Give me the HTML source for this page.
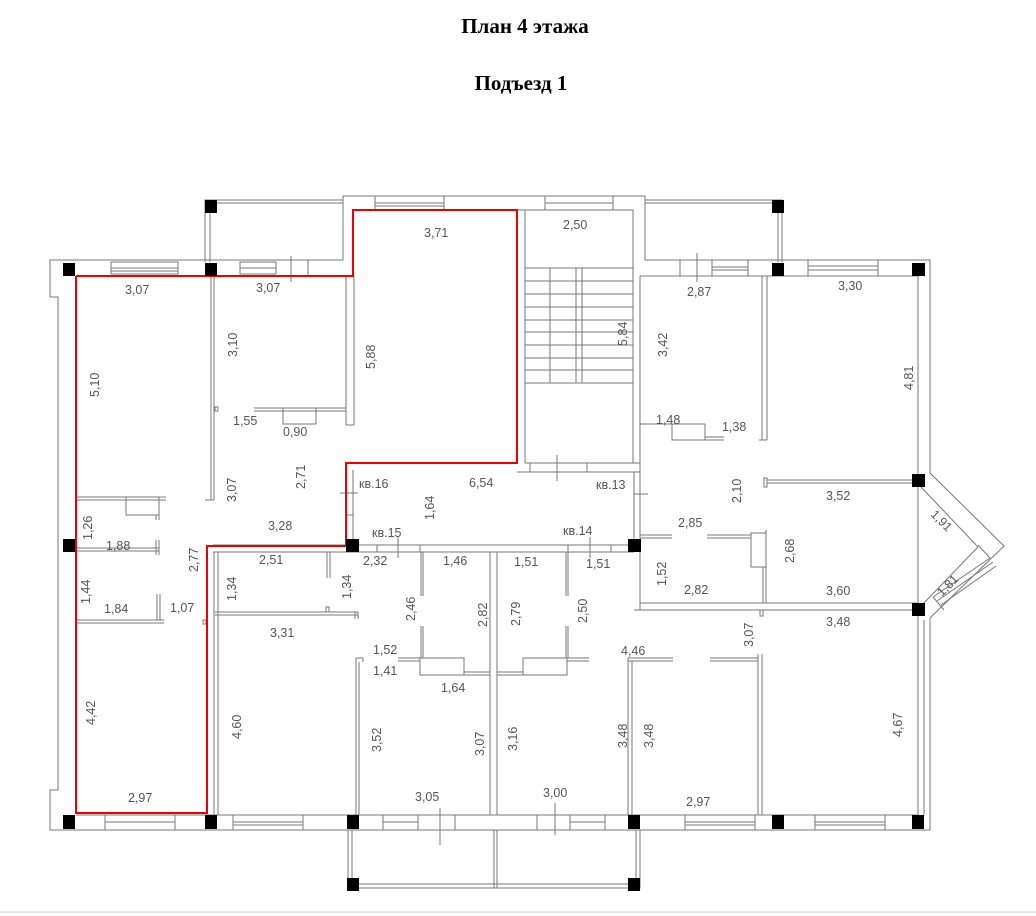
<!DOCTYPE html>
<html><head><meta charset="utf-8"><style>
html,body{margin:0;padding:0;background:#fff;}
svg{display:block}
.t{font-family:"Liberation Sans",sans-serif;font-size:12.5px;fill:#555;}
.h{font-family:"Liberation Serif",serif;font-size:21px;font-weight:bold;fill:#000;}
</style></head><body>
<svg width="1036" height="916" viewBox="0 0 1036 916" xmlns="http://www.w3.org/2000/svg">
<rect width="1036" height="916" fill="#fff"/>
<text class="h" x="525" y="33" text-anchor="middle">План 4 этажа</text>
<text class="h" x="521" y="90" text-anchor="middle">Подъезд 1</text>
<line x1="0" y1="912" x2="1036" y2="912" stroke="#ccc" stroke-width="1"/>
<g fill="none" stroke="#777" stroke-width="1">
<polyline points="50,297 50,260 343,260 343,196 645,196 645,260 930,260 930,473 1004,546 930,618 930,830 50,830 50,790 58,790 58,297 50,297"/>
<polyline points="76,276 343,276"/>
<polyline points="640,276 918,276 918,815 76,815"/>
<polyline points="357,210 633,210 633,463"/>
<polyline points="921,487 978,547 922,605"/>
<polyline points="205,262 205,200 343,200"/><line x1="210" y1="200" x2="210" y2="262"/><line x1="210" y1="203" x2="343" y2="203"/>
<polyline points="645,200 782,200 782,262"/><line x1="645" y1="203" x2="778" y2="203"/><line x1="778" y1="203" x2="778" y2="262"/>
<polyline points="348,830 348,888 640,888 640,830"/><line x1="352" y1="830" x2="352" y2="884"/><line x1="636" y1="830" x2="636" y2="884"/><line x1="352" y1="884" x2="636" y2="884"/><line x1="494" y1="830" x2="494" y2="888"/><line x1="497" y1="830" x2="497" y2="888"/>
<rect x="111" y="262" width="67" height="12"/><line x1="111" y1="268" x2="178" y2="268"/><line x1="111" y1="271" x2="178" y2="271"/>
<rect x="240" y="262" width="36" height="12"/><line x1="240" y1="268" x2="276" y2="268"/>
<line x1="291" y1="256" x2="291" y2="282"/><line x1="308" y1="260" x2="308" y2="276"/>
<rect x="375" y="196" width="69" height="14"/><line x1="375" y1="203" x2="444" y2="203"/><line x1="375" y1="206" x2="444" y2="206"/>
<rect x="545" y="196" width="68" height="14"/><line x1="545" y1="203" x2="613" y2="203"/>
<line x1="680" y1="260" x2="680" y2="276"/><line x1="697" y1="253" x2="697" y2="282"/>
<rect x="712" y="260" width="36" height="16"/><line x1="712" y1="267" x2="748" y2="267"/><line x1="712" y1="270" x2="748" y2="270"/>
<rect x="808" y="260" width="70" height="16"/><line x1="808" y1="266" x2="878" y2="266"/><line x1="808" y1="270" x2="878" y2="270"/>
<rect x="105" y="815" width="70" height="15"/><line x1="105" y1="822" x2="175" y2="822"/>
<rect x="233" y="815" width="70" height="15"/><line x1="233" y1="822" x2="303" y2="822"/><line x1="233" y1="825" x2="303" y2="825"/>
<rect x="383" y="815" width="35" height="15"/><line x1="383" y1="822" x2="418" y2="822"/>
<line x1="440" y1="808" x2="440" y2="845"/><line x1="455" y1="815" x2="455" y2="830"/>
<line x1="537" y1="815" x2="537" y2="830"/><line x1="555" y1="803" x2="555" y2="835"/>
<rect x="570" y="815" width="35" height="15"/><line x1="570" y1="822" x2="605" y2="822"/>
<rect x="685" y="815" width="70" height="15"/><line x1="685" y1="822" x2="755" y2="822"/><line x1="685" y1="825" x2="755" y2="825"/>
<rect x="815" y="815" width="70" height="15"/><line x1="815" y1="822" x2="885" y2="822"/><line x1="815" y1="825" x2="885" y2="825"/>
<!-- bay window -->
<line x1="933" y1="597" x2="990" y2="558"/><line x1="937" y1="601" x2="993" y2="562"/><line x1="941" y1="605" x2="996" y2="566"/>
<line x1="933" y1="597" x2="944" y2="610"/><line x1="978" y1="545" x2="990" y2="558"/>
<!-- stair -->
<line x1="525" y1="210" x2="525" y2="463"/>
<line x1="525" y1="463" x2="640" y2="463"/><line x1="517" y1="472" x2="640" y2="472"/>
<g>
<line x1="525" y1="268" x2="633" y2="268"/><line x1="525" y1="281" x2="633" y2="281"/><line x1="525" y1="294" x2="633" y2="294"/><line x1="525" y1="307" x2="633" y2="307"/><line x1="525" y1="320" x2="633" y2="320"/><line x1="525" y1="332" x2="633" y2="332"/><line x1="525" y1="345" x2="633" y2="345"/><line x1="525" y1="358" x2="633" y2="358"/><line x1="525" y1="370" x2="633" y2="370"/><line x1="525" y1="383" x2="633" y2="383"/>
<line x1="550" y1="268" x2="550" y2="383"/><line x1="576" y1="268" x2="576" y2="383"/><line x1="582" y1="268" x2="582" y2="383"/>
<line x1="530" y1="463" x2="530" y2="472"/><line x1="587" y1="463" x2="587" y2="472"/><line x1="557" y1="455" x2="557" y2="481"/>
</g>
<line x1="211" y1="276" x2="211" y2="500"/><line x1="214" y1="276" x2="214" y2="500"/><line x1="205" y1="500" x2="214" y2="500"/>
<line x1="346" y1="276" x2="346" y2="425"/><line x1="354" y1="276" x2="354" y2="425"/><line x1="346" y1="425" x2="354" y2="425"/>
<line x1="254" y1="408" x2="346" y2="408"/><line x1="254" y1="411" x2="346" y2="411"/>
<rect x="283" y="408" width="33" height="16"/>
<rect x="215" y="407" width="3" height="4"/>
<line x1="76" y1="497" x2="166" y2="497"/><line x1="76" y1="500" x2="166" y2="500"/><rect x="126" y="497" width="33" height="18"/><line x1="156" y1="515" x2="156" y2="520"/><line x1="159" y1="515" x2="159" y2="520"/>
<line x1="76" y1="548" x2="159" y2="548"/><line x1="76" y1="551" x2="159" y2="551"/><line x1="156" y1="540" x2="156" y2="555"/><line x1="159" y1="540" x2="159" y2="555"/>
<line x1="76" y1="620" x2="164" y2="620"/><line x1="76" y1="623" x2="164" y2="623"/><line x1="157" y1="594" x2="157" y2="620"/><line x1="160" y1="594" x2="160" y2="620"/>
<rect x="203" y="620" width="3" height="4"/>
<line x1="346" y1="463" x2="517" y2="463"/>
<line x1="346" y1="463" x2="346" y2="546"/><line x1="353" y1="470" x2="353" y2="546"/>
<line x1="340" y1="493" x2="358" y2="493"/><line x1="346" y1="515" x2="353" y2="515"/>
<line x1="634" y1="472" x2="634" y2="546"/><line x1="640" y1="276" x2="640" y2="610"/><line x1="634" y1="494" x2="648" y2="494"/>
<line x1="213" y1="545" x2="634" y2="545"/><line x1="213" y1="552" x2="634" y2="552"/>
<line x1="377" y1="545" x2="377" y2="552"/><line x1="398" y1="537" x2="398" y2="558"/><line x1="420" y1="545" x2="420" y2="552"/>
<line x1="568" y1="545" x2="568" y2="552"/><line x1="590" y1="537" x2="590" y2="558"/><line x1="611" y1="545" x2="611" y2="552"/>
<line x1="214" y1="552" x2="214" y2="815"/><line x1="218" y1="552" x2="218" y2="815"/>
<line x1="327" y1="552" x2="327" y2="578"/><line x1="330" y1="552" x2="330" y2="578"/>
<line x1="215" y1="612" x2="358" y2="612"/><line x1="215" y1="615" x2="358" y2="615"/><line x1="355" y1="612" x2="355" y2="619"/><line x1="358" y1="612" x2="358" y2="619"/>
<rect x="326" y="607" width="3" height="5"/>
<line x1="421" y1="552" x2="421" y2="596"/><line x1="423" y1="552" x2="423" y2="596"/>
<line x1="421" y1="626" x2="421" y2="658"/><line x1="423" y1="626" x2="423" y2="658"/>
<line x1="398" y1="658" x2="420" y2="658"/><line x1="398" y1="661" x2="420" y2="661"/>
<rect x="420" y="658" width="44" height="17"/><line x1="464" y1="672" x2="490" y2="672"/><line x1="464" y1="675" x2="490" y2="675"/>
<line x1="356" y1="658" x2="356" y2="815"/><line x1="359" y1="662" x2="359" y2="815"/><line x1="356" y1="658" x2="363" y2="658"/><line x1="363" y1="658" x2="363" y2="662"/>
<line x1="490" y1="552" x2="490" y2="815"/><line x1="497" y1="552" x2="497" y2="815"/>
<line x1="497" y1="672" x2="523" y2="672"/><line x1="497" y1="675" x2="523" y2="675"/>
<rect x="523" y="658" width="44" height="17"/>
<line x1="567" y1="658" x2="589" y2="658"/><line x1="567" y1="661" x2="589" y2="661"/>
<line x1="566" y1="552" x2="566" y2="596"/><line x1="568" y1="552" x2="568" y2="596"/>
<line x1="566" y1="626" x2="566" y2="658"/><line x1="568" y1="626" x2="568" y2="658"/>
<line x1="762" y1="276" x2="762" y2="440"/><line x1="767" y1="276" x2="767" y2="440"/><line x1="759" y1="440" x2="767" y2="440"/>
<line x1="640" y1="424" x2="672" y2="424"/><rect x="672" y="424" width="33" height="16"/><line x1="705" y1="437" x2="724" y2="437"/><line x1="705" y1="440" x2="724" y2="440"/>
<line x1="767" y1="480" x2="918" y2="480"/><line x1="767" y1="483" x2="918" y2="483"/><rect x="764" y="478" width="3" height="9"/>
<line x1="640" y1="535" x2="672" y2="535"/><line x1="640" y1="538" x2="672" y2="538"/>
<line x1="707" y1="535" x2="751" y2="535"/><line x1="707" y1="538" x2="751" y2="538"/>
<rect x="751" y="533" width="15" height="34"/>
<line x1="763" y1="567" x2="763" y2="603"/><line x1="766" y1="530" x2="766" y2="603"/>
<line x1="640" y1="603" x2="918" y2="603"/><line x1="634" y1="610" x2="918" y2="610"/>
<rect x="760" y="610" width="3" height="6"/>
<line x1="628" y1="658" x2="673" y2="658"/><line x1="628" y1="661" x2="673" y2="661"/>
<line x1="628" y1="658" x2="628" y2="815"/><line x1="632" y1="661" x2="632" y2="815"/>
<line x1="710" y1="658" x2="758" y2="658"/><line x1="710" y1="661" x2="758" y2="661"/>
<line x1="758" y1="654" x2="758" y2="815"/><line x1="762" y1="654" x2="762" y2="815"/>
<line x1="924" y1="620" x2="924" y2="815"/>
</g>
<polyline points="76,276 353,276 353,210 517,210 517,463 346,463 346,546 207,546 207,813 76,813 76,276" fill="none" stroke="#e00" stroke-width="2"/>
<g fill="#000">
<rect x="63" y="263" width="12" height="13"/><rect x="205" y="263" width="12" height="13"/><rect x="205" y="200" width="12" height="13"/>
<rect x="772" y="200" width="12" height="13"/><rect x="772" y="263" width="12" height="13"/><rect x="912" y="263" width="13" height="13"/>
<rect x="912" y="474" width="13" height="13"/><rect x="912" y="603" width="13" height="13"/>
<rect x="63" y="539" width="12" height="13"/><rect x="346" y="539" width="13" height="13"/><rect x="628" y="539" width="13" height="13"/>
<rect x="63" y="815" width="12" height="14"/><rect x="205" y="815" width="12" height="14"/><rect x="347" y="815" width="12" height="14"/>
<rect x="628" y="815" width="12" height="14"/><rect x="772" y="815" width="12" height="14"/><rect x="912" y="815" width="12" height="14"/>
<rect x="347" y="878" width="12" height="13"/><rect x="628" y="878" width="12" height="13"/>
</g>
<g class="t">
<text x="125" y="294">3,07</text><text x="256" y="292">3,07</text><text x="424" y="237">3,71</text><text x="563" y="229">2,50</text>
<text x="687" y="296">2,87</text><text x="838" y="290">3,30</text>
<text x="233" y="425">1,55</text><text x="283" y="436">0,90</text>
<text x="656" y="424">1,48</text><text x="722" y="431">1,38</text>
<text x="469" y="487">6,54</text><text x="359" y="488">кв.16</text><text x="596" y="489">кв.13</text>
<text x="268" y="530">3,28</text><text x="372" y="537">кв.15</text><text x="563" y="535">кв.14</text>
<text x="826" y="500">3,52</text><text x="678" y="527">2,85</text>
<text x="106" y="550">1,88</text><text x="363" y="565">2,32</text><text x="259" y="564">2,51</text><text x="443" y="565">1,46</text><text x="514" y="566">1,51</text><text x="586" y="568">1,51</text>
<text x="104" y="613">1,84</text><text x="170" y="612">1,07</text>
<text x="684" y="594">2,82</text><text x="826" y="595">3,60</text><text x="826" y="626">3,48</text>
<text x="270" y="637">3,31</text><text x="373" y="654">1,52</text><text x="373" y="675">1,41</text><text x="441" y="692">1,64</text><text x="621" y="655">4,46</text>
<text x="128" y="802">2,97</text><text x="415" y="801">3,05</text><text x="543" y="797">3,00</text><text x="686" y="806">2,97</text>
<g>
<text transform="translate(99,397) rotate(-90)">5,10</text>
<text transform="translate(237,357) rotate(-90)">3,10</text>
<text transform="translate(375,369) rotate(-90)">5,88</text>
<text transform="translate(627,346) rotate(-90)">5,84</text>
<text transform="translate(667,357) rotate(-90)">3,42</text>
<text transform="translate(913,390) rotate(-90)">4,81</text>
<text transform="translate(236,502) rotate(-90)">3,07</text>
<text transform="translate(305,489) rotate(-90)">2,71</text>
<text transform="translate(434,520) rotate(-90)">1,64</text>
<text transform="translate(741,503) rotate(-90)">2,10</text>
<text transform="translate(92,540) rotate(-90)">1,26</text>
<text transform="translate(90,604) rotate(-90)">1,44</text>
<text transform="translate(198,572) rotate(-90)">2,77</text>
<text transform="translate(236,601) rotate(-90)">1,34</text>
<text transform="translate(351,599) rotate(-90)">1,34</text>
<text transform="translate(415,621) rotate(-90)">2,46</text>
<text transform="translate(487,627) rotate(-90)">2,82</text>
<text transform="translate(520,626) rotate(-90)">2,79</text>
<text transform="translate(587,623) rotate(-90)">2,50</text>
<text transform="translate(666,586) rotate(-90)">1,52</text>
<text transform="translate(794,563) rotate(-90)">2,68</text>
<text transform="translate(753,647) rotate(-90)">3,07</text>
<text transform="translate(95,725) rotate(-90)">4,42</text>
<text transform="translate(241,739) rotate(-90)">4,60</text>
<text transform="translate(381,752) rotate(-90)">3,52</text>
<text transform="translate(484,756) rotate(-90)">3,07</text>
<text transform="translate(517,751) rotate(-90)">3,16</text>
<text transform="translate(627,748) rotate(-90)">3,48</text>
<text transform="translate(653,748) rotate(-90)">3,48</text>
<text transform="translate(902,737) rotate(-90)">4,67</text>
<text transform="translate(930,515) rotate(45)">1,91</text>
<text transform="translate(942,597) rotate(-45)">1,81</text>
</g>
</g>
</svg>
</body></html>
